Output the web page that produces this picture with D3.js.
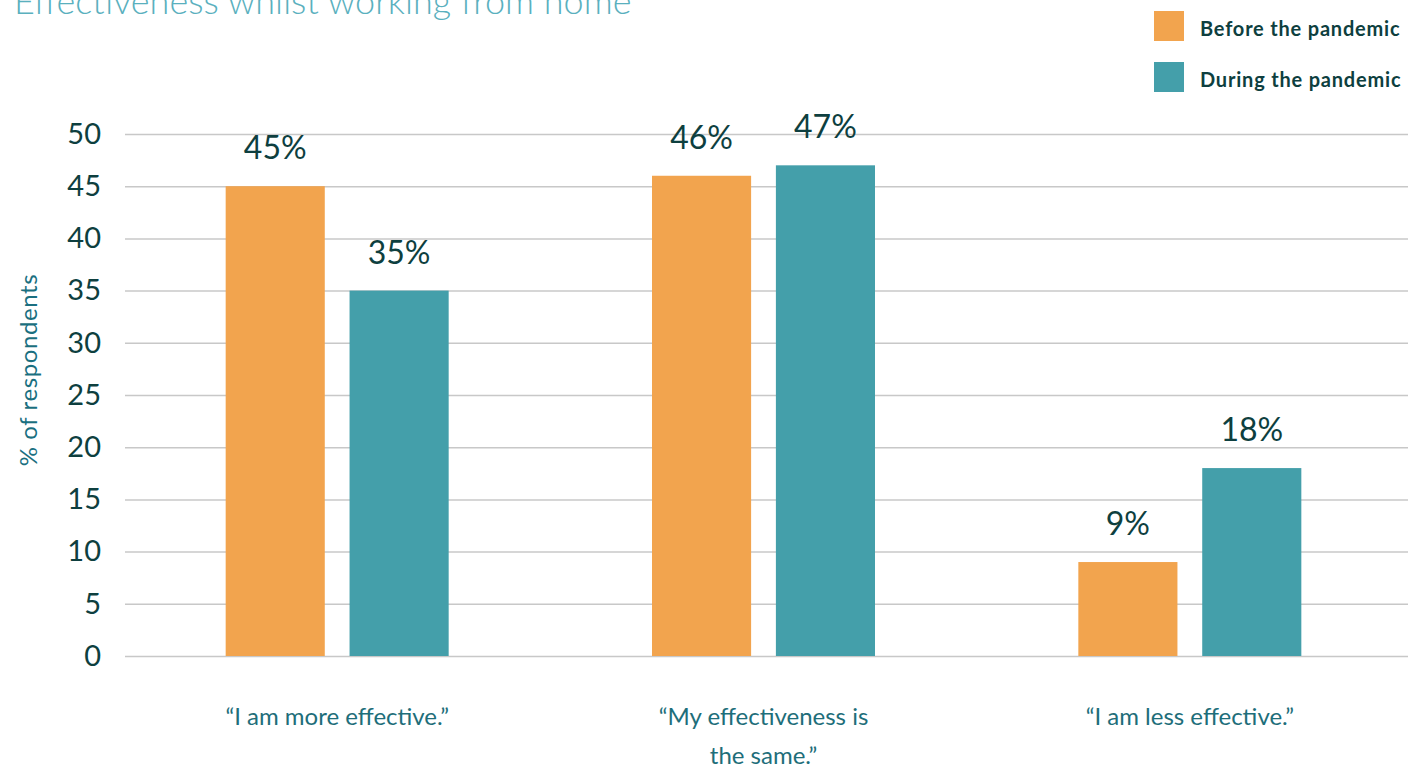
<!DOCTYPE html>
<html>
<head>
<meta charset="utf-8">
<script src="https://cdn.jsdelivr.net/npm/d3@7"></script>
<style>
  html, body { margin: 0; padding: 0; background: #fff; }
  svg { display: block; }
  text { font-family: "Lato", "Open Sans", sans-serif; }
</style>
</head>
<body>
<svg id="chart" width="1413" height="769"></svg>
<script>
// Survey responses: effectiveness when working from home
const categories = [
  ["\u201CI am more effective.\u201D"],
  ["\u201CMy effectiveness is", "the same.\u201D"],
  ["\u201CI am less effective.\u201D"]
];
const seriesNames = ["Before the pandemic", "During the pandemic"];
const beforeValues = [45, 46, 9];
const duringValues = [35, 47, 18];
const yTicks = [0, 5, 10, 15, 20, 25, 30, 35, 40, 45, 50];
const colors = ["#F2A44E", "#449FAA"];

const svg = d3.select("#chart");
const plot = { left: 125, right: 1408, top: 134, bottom: 656 };

const y = d3.scaleLinear().domain([0, 50]).range([plot.bottom, plot.top]);
const x0 = d3.scaleBand().domain(d3.range(categories.length))
  .range([124, 1403]).padding(0);
const groupWidth = 223;
const x1 = d3.scaleBand().domain(seriesNames)
  .range([(x0.bandwidth() - groupWidth) / 2, (x0.bandwidth() + groupWidth) / 2])
  .paddingInner(0.2);

// Title
svg.append("text")
  .attr("x", 14).attr("y", 14)
  .attr("font-size", 36).attr("font-weight", 300)
  .attr("fill", "#5AB0BE")
  .text("Effectiveness whilst working from home");

// Gridlines and y tick labels
const yAxis = d3.axisLeft(y).tickValues(yTicks)
  .tickSize(-(plot.right - plot.left)).tickPadding(24);
const gy = svg.append("g").attr("transform", `translate(${plot.left},0)`).call(yAxis);
gy.select(".domain").remove();
gy.selectAll(".tick line").attr("stroke", "#C8C8C8").attr("stroke-width", 1.5);
gy.selectAll(".tick text")
  .attr("font-size", 29).attr("fill", "#0E3F3F")
  .style("font-family", "Lato, 'Open Sans', sans-serif");

// Y axis title
svg.append("text")
  .attr("transform", "translate(37,370) rotate(-90)")
  .attr("text-anchor", "middle")
  .attr("font-size", 24).attr("letter-spacing", 0.6).attr("fill", "#1A6F80")
  .text("% of respondents");

// Bars
const rows = categories.map((c, i) => ({
  i,
  vals: [
    { s: seriesNames[0], v: beforeValues[i], c: colors[0] },
    { s: seriesNames[1], v: duringValues[i], c: colors[1] }
  ]
}));

const groups = svg.append("g").selectAll("g").data(rows).join("g")
  .attr("transform", d => `translate(${x0(d.i)},0)`);

groups.selectAll("rect").data(d => d.vals).join("rect")
  .attr("x", d => x1(d.s))
  .attr("y", d => y(d.v))
  .attr("width", x1.bandwidth())
  .attr("height", d => y(0) - y(d.v))
  .attr("fill", d => d.c);

groups.selectAll("text.val").data(d => d.vals).join("text")
  .attr("class", "val")
  .attr("x", d => x1(d.s) + x1.bandwidth() / 2)
  .attr("y", d => y(d.v) - 27)
  .attr("text-anchor", "middle")
  .attr("font-size", 32).attr("fill", "#0E3F3F")
  .text(d => d.v + "%");

// Category labels
const catLabels = svg.append("g").selectAll("text").data(categories).join("text")
  .attr("x", (d, i) => x0(i) + x0.bandwidth() / 2)
  .attr("y", 725)
  .attr("text-anchor", "middle")
  .attr("font-size", 24).attr("fill", "#1E6E7A");
catLabels.selectAll("tspan").data(d => d).join("tspan")
  .attr("x", function () { return d3.select(this.parentNode).attr("x"); })
  .attr("dy", (d, j) => j === 0 ? 0 : 39)
  .text(d => d);

// Legend
const legend = svg.append("g").selectAll("g").data(seriesNames).join("g")
  .attr("transform", (d, i) => `translate(1154,${11 + i * 51})`);
legend.append("rect")
  .attr("width", 30).attr("height", 30)
  .attr("fill", (d, i) => colors[i]);
legend.append("text")
  .attr("x", 46).attr("y", 25)
  .attr("font-size", 20).attr("font-weight", 700).attr("letter-spacing", 0.8)
  .attr("fill", "#0E3F3F")
  .text(d => d);
</script>
</body>
</html>
